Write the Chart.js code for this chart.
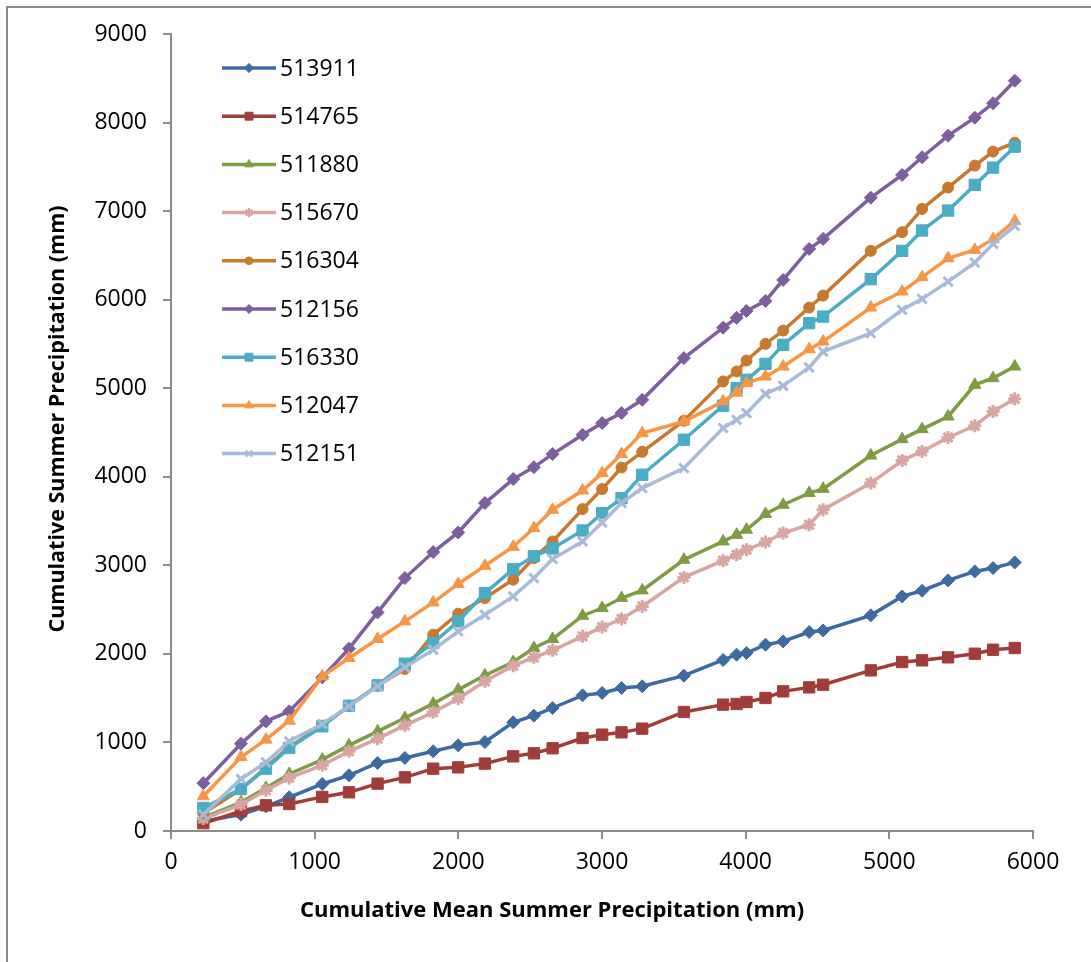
<!DOCTYPE html>
<html>
<head>
<meta charset="utf-8">
<script src="https://cdn.jsdelivr.net/npm/chart.js@4.4.1/dist/chart.umd.min.js"></script>
<style>
  html, body { margin: 0; padding: 0; background: #fff; }
  #wrap { position: relative; width: 1091px; height: 962px; overflow: hidden; }
  #frame { position: absolute; left: 6px; top: 6px; width: 1200px; height: 1100px; border-left: 2px solid #8c8c8c; border-top: 2px solid #8c8c8c; box-sizing: border-box; }
  #chart { position: absolute; left: 0; top: 0; }
</style>
</head>
<body>
<div id="wrap">
  <div id="frame"></div>
  <canvas id="chart" width="1091" height="962"></canvas>
</div>
<script>
// cumulative mean summer precipitation (mm), shared by every station
const meanCum = [225, 487, 661, 823, 1053, 1239, 1438, 1628, 1825, 1999, 2185, 2382, 2526, 2656, 2865, 3001, 3136, 3280, 3570, 3843, 3937, 4006, 4138, 4261, 4442, 4539, 4871, 5089, 5228, 5409, 5595, 5722, 5873];

const stations = ['513911', '514765', '511880', '515670', '516304', '512156', '516330', '512047', '512151'];

// cumulative summer precipitation (mm) per station
const s513911 = [110, 185, 279, 381, 531, 629, 768, 825, 900, 967, 1005, 1227, 1302, 1389, 1532, 1559, 1615, 1634, 1754, 1931, 1991, 2010, 2104, 2141, 2247, 2265, 2435, 2649, 2713, 2830, 2931, 2969, 3033];
const s514765 = [88, 223, 290, 305, 385, 437, 535, 606, 704, 719, 761, 843, 877, 934, 1050, 1088, 1114, 1156, 1344, 1427, 1434, 1457, 1502, 1577, 1622, 1652, 1814, 1908, 1927, 1961, 2002, 2047, 2066];
const s511880 = [150, 324, 486, 644, 806, 967, 1125, 1276, 1438, 1596, 1758, 1908, 2066, 2168, 2431, 2518, 2631, 2717, 3063, 3270, 3345, 3402, 3580, 3684, 3816, 3864, 4240, 4425, 4538, 4681, 5038, 5114, 5245];
const s515670 = [140, 298, 459, 599, 742, 900, 1043, 1193, 1340, 1494, 1690, 1867, 1961, 2040, 2198, 2303, 2394, 2536, 2864, 3052, 3120, 3176, 3263, 3365, 3458, 3628, 3929, 4184, 4286, 4444, 4576, 4737, 4880];
const s516304 = [200, 470, 720, 950, 1190, 1410, 1640, 1830, 2217, 2454, 2631, 2838, 3082, 3270, 3635, 3861, 4105, 4282, 4633, 5076, 5189, 5313, 5501, 5651, 5911, 6046, 6551, 6762, 7025, 7266, 7514, 7672, 7773];
const s512156 = [540, 986, 1238, 1351, 1735, 2059, 2468, 2856, 3150, 3371, 3703, 3974, 4109, 4256, 4474, 4606, 4719, 4869, 5340, 5684, 5795, 5873, 5986, 6223, 6573, 6686, 7152, 7409, 7608, 7852, 8055, 8218, 8473];
const s516330 = [260, 475, 704, 938, 1182, 1415, 1645, 1889, 2123, 2367, 2687, 2958, 3104, 3190, 3394, 3590, 3760, 4023, 4418, 4803, 5001, 5095, 5275, 5490, 5735, 5809, 6231, 6551, 6781, 7006, 7296, 7491, 7728];
const s512047 = [392, 836, 1032, 1246, 1746, 1954, 2168, 2367, 2581, 2790, 2995, 3210, 3421, 3628, 3845, 4041, 4256, 4493, 4624, 4850, 4950, 5058, 5132, 5245, 5441, 5527, 5911, 6092, 6254, 6468, 6562, 6683, 6889];
const s512151 = [185, 588, 775, 1013, 1209, 1408, 1634, 1848, 2047, 2254, 2442, 2649, 2856, 3072, 3270, 3484, 3703, 3872, 4098, 4550, 4643, 4719, 4937, 5027, 5234, 5414, 5622, 5885, 6009, 6204, 6419, 6630, 6833];

const xTicks = [0, 1000, 2000, 3000, 4000, 5000, 6000];
const yTicks = [0, 1000, 2000, 3000, 4000, 5000, 6000, 7000, 8000, 9000];

const series = [s513911, s514765, s511880, s515670, s516304, s512156, s516330, s512047, s512151];
const colors = ['#3d6aa1', '#a03d3a', '#7f9b45', '#d9a5a3', '#c8782f', '#7d5fa0', '#4bacc6', '#f79646', '#a8bad8'];
const markers = ['rectRot', 'rect', 'triangle', 'star', 'circle', 'rectRot', 'rect', 'triangle', 'crossRot'];
const markerSize = [6.5, 8, 7, 6.5, 5.5, 6.5, 8, 7, 6.5];

const FONT = '"Open Sans", "DejaVu Sans", sans-serif';
const AXIS = '#8c8c8c';

const thin = s => s === 'star' || s === 'crossRot';

const datasets = series.map((vals, i) => ({
  label: stations[i],
  data: vals.map((v, k) => ({ x: meanCum[k], y: v })),
  borderColor: colors[i],
  backgroundColor: colors[i],
  pointBackgroundColor: colors[i],
  pointBorderColor: colors[i],
  pointBorderWidth: thin(markers[i]) ? 3 : 1,
  pointStyle: markers[i],
  pointRadius: markerSize[i],
  borderWidth: 3.5,
  tension: 0,
  order: series.length - i
}));

// legend and axis titles drawn at fixed spots inside the frame
const decor = {
  id: 'decor',
  afterDraw(chart) {
    const ctx = chart.ctx;
    ctx.save();
    ctx.font = '23px ' + FONT;
    ctx.textBaseline = 'middle';
    chart.data.datasets.forEach((ds, i) => {
      const y = 68 + i * 48.2;
      ctx.strokeStyle = ds.borderColor;
      ctx.lineWidth = 3.5;
      ctx.beginPath();
      ctx.moveTo(222, y);
      ctx.lineTo(276, y);
      ctx.stroke();
      const bw = thin(ds.pointStyle) ? 2 : 1;
      ctx.fillStyle = ds.pointBackgroundColor;
      ctx.strokeStyle = ds.pointBorderColor;
      ctx.lineWidth = bw;
      Chart.helpers.drawPoint(ctx, { pointStyle: ds.pointStyle, radius: ds.pointRadius * 0.7, rotation: 0, borderWidth: bw }, 249, y);
      ctx.fillStyle = '#000';
      ctx.textAlign = 'left';
      ctx.fillText(ds.label, 280, y + 1);
    });

    ctx.fillStyle = '#000';
    ctx.textAlign = 'center';
    ctx.font = 'bold 22px ' + FONT;
    ctx.fillText('Cumulative Mean Summer Precipitation (mm)', 552, 911);
    ctx.font = 'bold 21.5px ' + FONT;
    ctx.translate(58, 419);
    ctx.rotate(-Math.PI / 2);
    ctx.fillText('Cumulative Summer Precipitation (mm)', 0, 0);
    ctx.restore();
  }
};

new Chart(document.getElementById('chart'), {
  type: 'line',
  data: { datasets },
  plugins: [decor],
  options: {
    responsive: false,
    animation: false,
    events: [],
    layout: { padding: { left: 0, top: 34, right: 58, bottom: 81 } },
    plugins: { legend: { display: false }, tooltip: { enabled: false } },
    scales: {
      x: {
        type: 'linear', min: 0, max: 6000,
        afterBuildTicks: s => { s.ticks = xTicks.map(v => ({ value: v })); },
        afterFit: s => { s.height = 50; },
        border: { display: true, color: AXIS, width: 2 },
        grid: { display: true, drawOnChartArea: false, drawTicks: true, tickLength: 8, color: AXIS, lineWidth: 2 },
        ticks: { color: '#000', padding: 10, maxRotation: 0, callback: v => String(v), font: { family: FONT, size: 23 } }
      },
      y: {
        type: 'linear', min: 0, max: 9000,
        afterBuildTicks: s => { s.ticks = yTicks.map(v => ({ value: v })); },
        afterFit: s => { s.width = 171; },
        border: { display: true, color: AXIS, width: 2 },
        grid: { display: true, drawOnChartArea: false, drawTicks: true, tickLength: 8, color: AXIS, lineWidth: 2 },
        ticks: { color: '#000', padding: 16, callback: v => String(v), font: { family: FONT, size: 23 } }
      }
    }
  }
});
</script>
</body>
</html>
